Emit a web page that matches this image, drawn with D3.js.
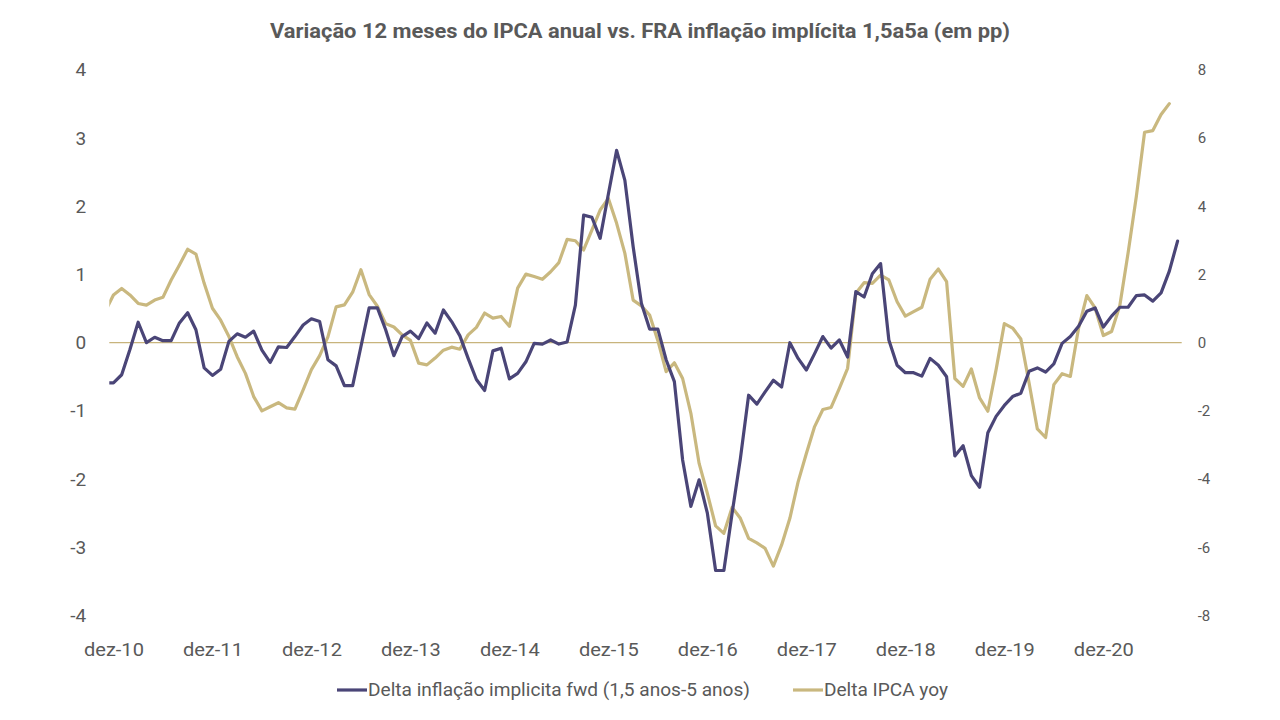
<!DOCTYPE html>
<html><head><meta charset="utf-8">
<script src="https://cdn.jsdelivr.net/npm/d3@7"></script>
<style>
html,body{margin:0;padding:0;background:#fff;}
svg{display:block;}
text{font-family:Roboto,"Open Sans",sans-serif;fill:#595959;}
</style></head>
<body><svg id="chart" width="1280" height="720"></svg>
<script>
const title = "Variação 12 meses do IPCA anual vs. FRA inflação implícita 1,5a5a (em pp)";
const seriesNames = ["Delta inflação implicita fwd (1,5 anos-5 anos)", "Delta IPCA yoy"];
const monthAbbr = ["jan","fev","mar","abr","mai","jun","jul","ago","set","out","nov","dez"];
// monthly categories: nov-10 ... set-21
const months = d3.timeMonth.range(new Date(2010,10,1), new Date(2021,9,1));
const xTickLabels = ["dez-10","dez-11","dez-12","dez-13","dez-14","dez-15","dez-16","dez-17","dez-18","dez-19","dez-20"];
const leftTicks = [-4,-3,-2,-1,0,1,2,3,4];
const rightTicks = [-8,-6,-4,-2,0,2,4,6,8];
// Delta inflação implícita fwd (left axis), nov-10 ... set-21
const deltaFwd = [-0.59,
 -0.59,-0.47,-0.10,0.30,0.00,0.08,0.03,0.03,0.29,0.44,0.19,-0.37,
 -0.48,-0.39,0.02,0.13,0.08,0.17,-0.11,-0.29,-0.06,-0.07,0.09,0.26,
 0.35,0.31,-0.25,-0.34,-0.63,-0.63,-0.06,0.51,0.51,0.19,-0.19,0.09,
 0.17,0.06,0.29,0.14,0.48,0.31,0.10,-0.23,-0.54,-0.70,-0.12,-0.08,
 -0.53,-0.45,-0.28,-0.01,-0.02,0.04,-0.02,0.01,0.55,1.87,1.84,1.53,
 2.18,2.82,2.38,1.41,0.58,0.20,0.20,-0.25,-0.57,-1.72,-2.40,-2.01,
 -2.50,-3.34,-3.34,-2.50,-1.70,-0.77,-0.90,-0.72,-0.55,-0.65,0.00,-0.23,
 -0.40,-0.16,0.09,-0.08,0.04,-0.21,0.75,0.67,1.01,1.16,0.04,-0.33,
 -0.44,-0.44,-0.49,-0.23,-0.33,-0.50,-1.66,-1.51,-1.95,-2.12,-1.32,-1.08,
 -0.92,-0.79,-0.74,-0.42,-0.37,-0.43,-0.31,-0.01,0.09,0.24,0.46,0.51,
 0.23,0.39,0.52,0.52,0.69,0.70,0.61,0.73,1.05,1.49];
// Delta IPCA yoy (right axis), nov-10 ... set-21
const deltaIPCA = [0.91,
 1.40,1.59,1.40,1.15,1.10,1.25,1.33,1.84,2.28,2.74,2.60,1.74,
 1.01,0.66,0.18,-0.41,-0.90,-1.58,-2.00,-1.88,-1.76,-1.91,-1.95,-1.38,
 -0.79,-0.38,0.17,1.05,1.11,1.48,2.14,1.41,1.07,0.56,0.46,0.23,
 0.07,-0.60,-0.65,-0.45,-0.22,-0.13,-0.19,0.23,0.45,0.87,0.72,0.77,
 0.48,1.60,2.01,1.94,1.86,2.08,2.35,3.03,2.99,2.72,3.30,3.89,
 4.23,3.50,2.62,1.25,1.08,0.81,0.06,-0.85,-0.59,-1.05,-2.07,-3.54,
 -4.42,-5.37,-5.59,-4.83,-5.15,-5.74,-5.87,-6.03,-6.55,-5.93,-5.15,-4.08,
 -3.25,-2.46,-1.96,-1.90,-1.34,-0.75,1.45,1.76,1.74,1.98,1.84,1.20,
 0.78,0.91,1.04,1.86,2.16,1.79,-1.05,-1.28,-0.77,-1.62,-2.01,-0.79,
 0.56,0.43,0.11,-1.18,-2.53,-2.78,-1.23,-0.91,-0.99,0.43,1.38,1.02,
 0.21,0.33,1.09,2.63,4.29,6.17,6.22,6.69,7.01,null];

const colors = {fwd:"#4a4577", ipca:"#c9b87f", zero:"#c8b47c"};

const svg = d3.select("#chart");
const plot = {left:109.3, right:1181.7, top:69.9, bottom:615.5};

const x = d3.scaleLinear().domain([0.5, months.length - 0.5]).range([plot.left, plot.right]);
const yL = d3.scaleLinear().domain([-4,4]).range([plot.bottom, plot.top]);
const yR = d3.scaleLinear().domain([-8,8]).range([plot.bottom, plot.top]);

const fmt = d => monthAbbr[d.getMonth()] + "-" + String(d.getFullYear()).slice(2);

svg.append("defs").append("clipPath").attr("id","clip")
  .append("rect").attr("x",plot.left).attr("y",0)
  .attr("width",plot.right-plot.left).attr("height",720);

// title
svg.append("text").attr("x",640).attr("y",38).attr("text-anchor","middle")
  .attr("font-size",21).attr("font-weight","bold")
  .attr("textLength",740).attr("lengthAdjust","spacingAndGlyphs")
  .text(title);

// left axis labels
const gL = svg.append("g").attr("transform",`translate(${plot.left-23},0)`)
  .call(d3.axisLeft(yL).tickValues(leftTicks).tickSize(0).tickPadding(0).tickFormat(d=>String(d)));
gL.select(".domain").remove();
gL.selectAll("text").attr("font-size",19).style("fill","#595959").attr("font-family","Roboto");

// right axis labels
const gR = svg.append("g").attr("transform",`translate(${plot.right+16},0)`)
  .call(d3.axisRight(yR).tickValues(rightTicks).tickSize(0).tickPadding(0).tickFormat(d=>String(d)));
gR.select(".domain").remove();
gR.selectAll("text").attr("font-size",15).style("fill","#595959").attr("font-family","Roboto");

// x axis labels
const tickIdx = months.map((d,i)=>i).filter(i=>xTickLabels.includes(fmt(months[i])));
const gX = svg.append("g").attr("transform",`translate(0,${plot.bottom+27})`)
  .call(d3.axisBottom(x).tickValues(tickIdx).tickSize(0).tickPadding(0).tickFormat(i=>fmt(months[i])));
gX.select(".domain").remove();
gX.selectAll("text").attr("font-size",19).style("fill","#595959").attr("font-family","Roboto")
  .attr("textLength",60).attr("lengthAdjust","spacingAndGlyphs");

// zero line
svg.append("line").attr("x1",plot.left).attr("x2",plot.right)
  .attr("y1",yL(0)).attr("y2",yL(0)).attr("stroke",colors.zero).attr("stroke-width",1.2);

const g = svg.append("g").attr("clip-path","url(#clip)");
const lineL = d3.line().defined(d=>d!=null).x((d,i)=>x(i)).y(d=>yL(d));
const lineR = d3.line().defined(d=>d!=null).x((d,i)=>x(i)).y(d=>yR(d));

g.append("path").datum(deltaIPCA).attr("d",lineR).attr("fill","none")
  .attr("stroke",colors.ipca).attr("stroke-width",3.2).attr("stroke-linejoin","round").attr("stroke-linecap","round");
g.append("path").datum(deltaFwd).attr("d",lineL).attr("fill","none")
  .attr("stroke",colors.fwd).attr("stroke-width",3.2).attr("stroke-linejoin","round").attr("stroke-linecap","round");

// legend
const legend = [
  {name:seriesNames[0], color:colors.fwd, x:337, w:382},
  {name:seriesNames[1], color:colors.ipca, x:793, w:124}
];
const lg = svg.append("g");
legend.forEach(l=>{
  lg.append("line").attr("x1",l.x).attr("x2",l.x+30).attr("y1",690).attr("y2",690)
    .attr("stroke",l.color).attr("stroke-width",3.2);
  lg.append("text").attr("x",l.x+31).attr("y",696).attr("font-size",18)
    .attr("textLength",l.w).attr("lengthAdjust","spacingAndGlyphs").text(l.name);
});
</script></body></html>
